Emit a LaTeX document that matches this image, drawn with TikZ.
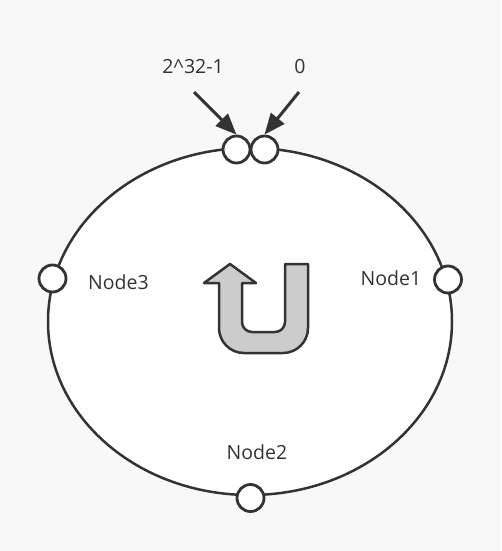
\documentclass[tikz,border=0pt]{standalone}
\usepackage{fontspec}
\setmainfont{Open Sans}
\usetikzlibrary{arrows.meta,shapes.geometric}
\definecolor{bg}{HTML}{F8F8F8}
\definecolor{ink}{HTML}{333333}
\definecolor{ufill}{HTML}{CCCCCC}
\tikzset{
  ring/.style={draw=ink, line width=2.5pt, fill=white},
  slot/.style={circle, draw=ink, line width=2.8pt, fill=white, minimum size=27pt, inner sep=0pt},
  lbl/.style={text=ink, font=\fontsize{19.5}{23}\selectfont, inner sep=0pt},
  pointer/.style={draw=ink, line width=3pt, -{Triangle[length=21pt,width=17pt]}},
  uturn/.style={draw=ink, line width=2.5pt, fill=ufill, line join=round}
}
\begin{document}
\begin{tikzpicture}[x=1pt,y=-1pt]
\fill[bg] (0,0) rectangle (501,551);
\useasboundingbox (0,0) rectangle (501,551);
% main ring
\node[ring, ellipse, minimum width=404pt, minimum height=347pt, inner sep=0pt] (ring) at (250,321.5) {};
% U-turn arrow
\draw[uturn] (230,264) -- (256,283) -- (242,283) -- (242,322)
  arc[start angle=180, end angle=90, radius=10] -- (275,332)
  arc[start angle=90, end angle=0, radius=10] -- (285,264) -- (308,264) -- (308,328)
  arc[start angle=0, end angle=90, radius=25] -- (244,353)
  arc[start angle=90, end angle=180, radius=25] -- (219,283) -- (204,283) -- cycle;
% slots on ring
\node[slot] (max) at (236.5,149.5) {};
\node[slot] (zero) at (264.5,149.5) {};
\node[slot] (n3) at (52.5,278.5) {};
\node[slot] (n1) at (448,279.5) {};
\node[slot] (n2) at (250.5,498) {};
% labels
\node[lbl] (tmax) at (193,67) {2\textasciicircum 32-1};
\node[lbl] (tzero) at (300,67) {0};
\node[lbl] (l3) at (118.5,282) {Node3};
\node[lbl] (l1) at (391,278) {Node1};
\node[lbl] (l2) at (257,452) {Node2};
% pointers
\coordinate (pmax) at (194,92);
\coordinate (pzero) at (299,92);
\draw[pointer] (pmax) -- (max.north);
\draw[pointer] (pzero) -- (zero.north);
\end{tikzpicture}
\end{document}
